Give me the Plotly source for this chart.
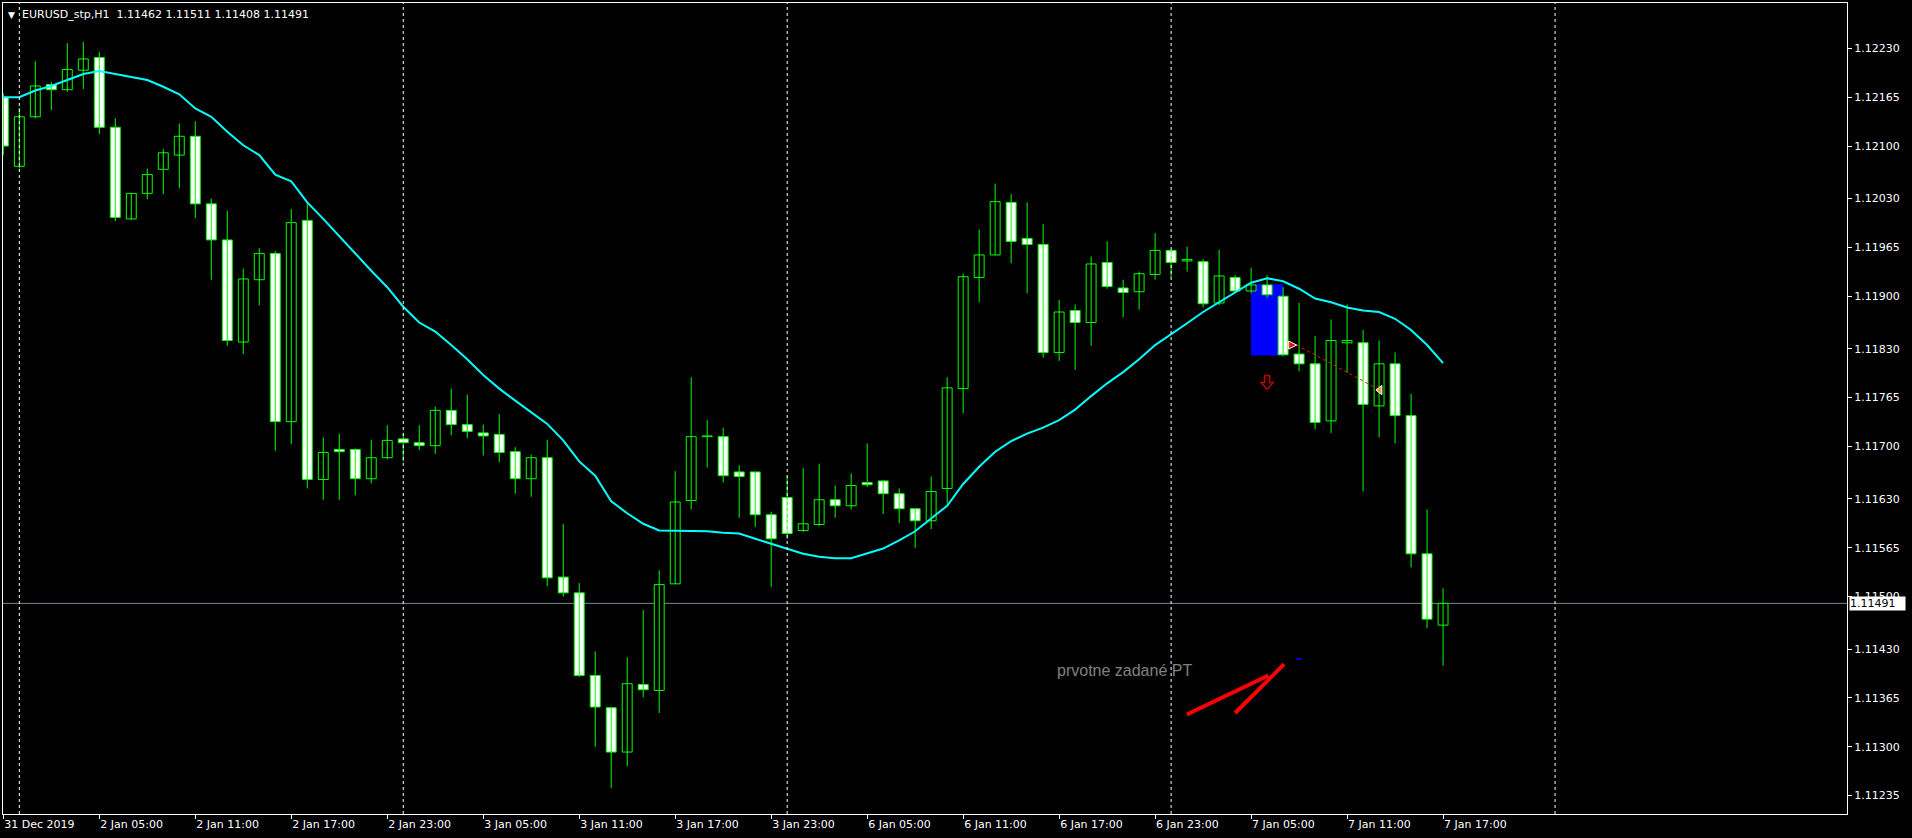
import plotly.graph_objects as go

# ---------------- data ----------------
bar_index = list(range(91))

opens = [1.12165, 1.12073, 1.12139, 1.12182, 1.12175, 1.12201, 1.12218, 1.12125, 1.12003, 1.12037,
         1.12069, 1.12088, 1.12113, 1.12023, 1.11975, 1.11839, 1.11922, 1.11957, 1.11733, 1.12001,
         1.11656, 1.11696, 1.11696, 1.11657, 1.11685, 1.11710, 1.11705, 1.11701, 1.11748, 1.11729,
         1.11718, 1.11716, 1.11693, 1.11657, 1.11685, 1.11526, 1.11505, 1.11395, 1.11352, 1.11293,
         1.11383, 1.11375, 1.11517, 1.11628, 1.11713, 1.11713, 1.11666, 1.11666, 1.11609, 1.11632,
         1.11588, 1.11596, 1.11629, 1.11621, 1.11652, 1.11654, 1.11637, 1.11617, 1.11601, 1.11644,
         1.11777, 1.11925, 1.11955, 1.12025, 1.11977, 1.11969, 1.11825, 1.11881, 1.11865, 1.11945,
         1.11911, 1.11906, 1.11929, 1.11961, 1.11947, 1.11946, 1.11891, 1.11925, 1.11907, 1.11915,
         1.11900, 1.11823, 1.11810, 1.11734, 1.11838, 1.11838, 1.11754, 1.11810, 1.11741, 1.11557,
         1.11462]
highs = [1.12170, 1.12151, 1.12213, 1.12185, 1.12237, 1.12239, 1.12225, 1.12137, 1.12037, 1.12070,
         1.12096, 1.12130, 1.12133, 1.12030, 1.12014, 1.11937, 1.11964, 1.11960, 1.12016, 1.12025,
         1.11712, 1.11717, 1.11697, 1.11709, 1.11728, 1.11718, 1.11728, 1.11753, 1.11777, 1.11769,
         1.11729, 1.11743, 1.11699, 1.11689, 1.11709, 1.11597, 1.11518, 1.11427, 1.11352, 1.11419,
         1.11482, 1.11535, 1.11667, 1.11792, 1.11735, 1.11725, 1.11675, 1.11666, 1.11613, 1.11660,
         1.11671, 1.11677, 1.11648, 1.11664, 1.11704, 1.11655, 1.11644, 1.11617, 1.11660, 1.11792,
         1.11930, 1.11989, 1.12050, 1.12036, 1.12025, 1.11996, 1.11895, 1.11889, 1.11953, 1.11973,
         1.11922, 1.11933, 1.11984, 1.11963, 1.11966, 1.11949, 1.11962, 1.11928, 1.11938, 1.11928,
         1.11912, 1.11891, 1.11847, 1.11869, 1.11889, 1.11855, 1.11841, 1.11825, 1.11770, 1.11616,
         1.11511]
lows = [1.12088, 1.12070, 1.12137, 1.12148, 1.12172, 1.12176, 1.12116, 1.12000, 1.12002, 1.12029,
        1.12036, 1.12044, 1.12004, 1.11922, 1.11834, 1.11823, 1.11888, 1.11694, 1.11703, 1.11644,
        1.11629, 1.11629, 1.11635, 1.11651, 1.11683, 1.11680, 1.11695, 1.11690, 1.11715, 1.11711,
        1.11688, 1.11679, 1.11637, 1.11633, 1.11514, 1.11500, 1.11393, 1.11300, 1.11245, 1.11274,
        1.11366, 1.11345, 1.11517, 1.11616, 1.11672, 1.11652, 1.11605, 1.11593, 1.11513, 1.11577,
        1.11586, 1.11594, 1.11605, 1.11616, 1.11646, 1.11610, 1.11598, 1.11565, 1.11590, 1.11624,
        1.11744, 1.11892, 1.11955, 1.11944, 1.11904, 1.11818, 1.11814, 1.11802, 1.11834, 1.11910,
        1.11872, 1.11882, 1.11922, 1.11925, 1.11933, 1.11885, 1.11888, 1.11905, 1.11904, 1.11898,
        1.11820, 1.11800, 1.11723, 1.11718, 1.11798, 1.11640, 1.11712, 1.11704, 1.11539, 1.11458,
        1.11408]
closes = [1.12100, 1.12139, 1.12180, 1.12175, 1.12202, 1.12216, 1.12125, 1.12005, 1.12037, 1.12062,
          1.12091, 1.12113, 1.12023, 1.11975, 1.11841, 1.11923, 1.11957, 1.11733, 1.11998, 1.11656,
          1.11692, 1.11693, 1.11657, 1.11685, 1.11708, 1.11705, 1.11701, 1.11748, 1.11729, 1.11720,
          1.11714, 1.11692, 1.11657, 1.11685, 1.11525, 1.11505, 1.11395, 1.11353, 1.11293, 1.11384,
          1.11376, 1.11516, 1.11626, 1.11713, 1.11714, 1.11661, 1.11660, 1.11609, 1.11577, 1.11584,
          1.11597, 1.11629, 1.11621, 1.11648, 1.11649, 1.11637, 1.11617, 1.11601, 1.11640, 1.11778,
          1.11926, 1.11955, 1.12026, 1.11973, 1.11969, 1.11825, 1.11879, 1.11865, 1.11943, 1.11913,
          1.11905, 1.11930, 1.11961, 1.11945, 1.11949, 1.11890, 1.11927, 1.11907, 1.11915, 1.11902,
          1.11822, 1.11810, 1.11732, 1.11841, 1.11841, 1.11756, 1.11810, 1.11741, 1.11557, 1.11470,
          1.11491]
ma_values = [1.12165, 1.12165, 1.12174, 1.12180, 1.12188, 1.12196, 1.12200, 1.12196, 1.12191, 1.12188,
             1.12179, 1.12169, 1.12150, 1.12139, 1.12119, 1.12101, 1.12088, 1.12062, 1.12053, 1.12025,
             1.12003, 1.11980, 1.11956, 1.11934, 1.11912, 1.11886, 1.11865, 1.11853, 1.11835, 1.11816,
             1.11795, 1.11777, 1.11761, 1.11745, 1.11730, 1.11708, 1.11680, 1.11661, 1.11627, 1.11611,
             1.11597, 1.11588, 1.11588, 1.11588, 1.11587, 1.11585, 1.11584, 1.11577, 1.11570, 1.11563,
             1.11557, 1.11553, 1.11551, 1.11551, 1.11557, 1.11564, 1.11575, 1.11587, 1.11604, 1.11621,
             1.11650, 1.11673, 1.11693, 1.11707, 1.11717, 1.11725, 1.11735, 1.11749, 1.11767, 1.11784,
             1.11799, 1.11816, 1.11835, 1.11849, 1.11864, 1.11879, 1.11892, 1.11905, 1.11918, 1.11924,
             1.11920, 1.11910, 1.11897, 1.11892, 1.11885, 1.11881, 1.11879, 1.11870, 1.11855, 1.11835,
             1.11811]

x_tick_index = list(range(0, 91, 6))
x_tick_labels = ["31 Dec 2019", "2 Jan 05:00", "2 Jan 11:00", "2 Jan 17:00", "2 Jan 23:00",
                 "3 Jan 05:00", "3 Jan 11:00", "3 Jan 17:00", "3 Jan 23:00", "6 Jan 05:00",
                 "6 Jan 11:00", "6 Jan 17:00", "6 Jan 23:00", "7 Jan 05:00", "7 Jan 11:00",
                 "7 Jan 17:00"]
y_tick_values = [1.12230, 1.12165, 1.12100, 1.12030, 1.11965, 1.11900, 1.11830, 1.11765,
                 1.11700, 1.11630, 1.11565, 1.11500, 1.11430, 1.11365, 1.11300, 1.11235]
day_separator_index = [1, 25, 49, 73, 97]
last_price = 1.11491
title_text = "EURUSD_stp,H1\u00a0\u00a01.11462 1.11511 1.11408 1.11491"

# drawn objects on the chart
zone_bars = (78, 80)
zone_prices = (1.11821, 1.11916)
signal_arrow = (79, 1.11785)
trade_open = (80.85, 1.11835)
trade_close = (86.05, 1.11775)
note_text = "prvotne zadané PT"
note_pos = (65.75, 1.11401)
red_strokes = [((73.98, 1.11343), (79.08, 1.11395)), ((77.0, 1.11345), (80.06, 1.11410))]
blue_dash = (80.8, 81.2, 1.11417)

GREEN = "#00FF00"

fig = go.Figure()

# wicks
wx, wy = [], []
for i, h, l in zip(bar_index, highs, lows):
    wx += [i, i, None]
    wy += [l, h, None]
fig.add_trace(go.Scatter(x=wx, y=wy, mode="lines", line=dict(color=GREEN, width=1),
                         hoverinfo="skip", showlegend=False))

# bodies
body_base = [min(o, c) for o, c in zip(opens, closes)]
body_len = [max(abs(c - o), 0.000004) for o, c in zip(opens, closes)]
body_fill = ["#000000" if c >= o else "#FFFFFF" for o, c in zip(opens, closes)]
fig.add_trace(go.Bar(x=bar_index, y=body_len, base=body_base, width=0.62,
                     marker=dict(color=body_fill, line=dict(color=GREEN, width=1)),
                     hoverinfo="skip", showlegend=False))

# moving average
fig.add_trace(go.Scatter(x=bar_index, y=ma_values, mode="lines",
                         line=dict(color="#00FFFF", width=2), hoverinfo="skip", showlegend=False))

# trade line + markers
fig.add_trace(go.Scatter(x=[trade_open[0], trade_close[0]], y=[trade_open[1], trade_close[1]],
                         mode="lines", line=dict(color="#FF0000", width=1, dash="dot"),
                         hoverinfo="skip", showlegend=False))
fig.add_trace(go.Scatter(x=[trade_open[0]], y=[trade_open[1]], mode="markers",
                         marker=dict(symbol="arrow-right", size=8, color="#FF0000",
                                     line=dict(color="#FFFFFF", width=1)),
                         hoverinfo="skip", showlegend=False))
fig.add_trace(go.Scatter(x=[trade_close[0]], y=[trade_close[1]], mode="markers",
                         marker=dict(symbol="triangle-left", size=8, color="#E8A040",
                                     line=dict(color="#FFFFFF", width=1)),
                         hoverinfo="skip", showlegend=False))

shapes = []
# blue zone
shapes.append(dict(type="rect", xref="x", yref="y", x0=zone_bars[0], x1=zone_bars[1],
                   y0=zone_prices[0], y1=zone_prices[1], fillcolor="#0000FF",
                   line=dict(width=0), layer="below"))
# day separators
for d in day_separator_index:
    shapes.append(dict(type="line", xref="x", yref="paper", x0=d, x1=d, y0=0, y1=1,
                       line=dict(color="#FFFFFF", width=1, dash="3px,3px"), layer="above"))
# last price line
shapes.append(dict(type="line", xref="paper", yref="y", x0=0, x1=1, y0=last_price, y1=last_price,
                   line=dict(color="#778899", width=1), layer="below"))
# red hand strokes
for (a, b) in red_strokes:
    shapes.append(dict(type="line", xref="x", yref="y", x0=a[0], y0=a[1], x1=b[0], y1=b[1],
                       line=dict(color="#FF0000", width=4)))
# blue dash
shapes.append(dict(type="line", xref="x", yref="y", x0=blue_dash[0], x1=blue_dash[1],
                   y0=blue_dash[2], y1=blue_dash[2], line=dict(color="#0000FF", width=1.5)))
# hollow down arrow (sell signal), sized in pixels around its anchor
shapes.append(dict(type="path", xref="x", yref="y", xsizemode="pixel", ysizemode="pixel",
                   xanchor=signal_arrow[0], yanchor=signal_arrow[1],
                   path="M -2.5,7 L 2.5,7 L 2.5,0 L 6,0 L 0,-7 L -6,0 L -2.5,0 Z",
                   line=dict(color="#C00000", width=1.5), fillcolor="rgba(0,0,0,0)"))

annotations = [
    dict(x=0, y=1, xref="paper", yref="paper", xanchor="left", yanchor="top", xshift=3, yshift=-5,
         text="▼", showarrow=False, font=dict(family="DejaVu Sans", size=9, color="#FFFFFF")),
    dict(x=0, y=1, xref="paper", yref="paper", xanchor="left", yanchor="top", xshift=17, yshift=-3,
         text=title_text, showarrow=False, font=dict(family="DejaVu Sans", size=11, color="#FFFFFF")),
    dict(x=1, y=last_price, xref="paper", yref="y", xanchor="left", yanchor="middle", xshift=2,
         text="1.11491", showarrow=False, bgcolor="#FFFFFF", borderpad=0, width=55, align="left",
         font=dict(family="DejaVu Sans", size=11, color="#000000")),
    dict(x=note_pos[0], y=note_pos[1], xref="x", yref="y", xanchor="left", yanchor="middle",
         text=note_text, showarrow=False,
         font=dict(family="Liberation Sans", size=16, color="#808080")),
]

fig.update_layout(
    width=1912, height=838,
    margin=dict(l=3, r=65, t=3, b=24),
    paper_bgcolor="#000000", plot_bgcolor="#000000",
    showlegend=False, hovermode=False, barmode="overlay",
    font=dict(family="DejaVu Sans", size=11, color="#FFFFFF"),
    shapes=shapes, annotations=annotations,
)
fig.update_xaxes(range=[-0.02, 115.25], tickmode="array", tickvals=x_tick_index, ticktext=x_tick_labels,
                 ticks="outside", ticklen=4, tickcolor="#FFFFFF", ticklabelposition="outside right",
                 showgrid=False, zeroline=False, showline=True, linecolor="#FFFFFF", linewidth=1,
                 mirror=True, tickfont=dict(family="DejaVu Sans", size=11, color="#FFFFFF"))
fig.update_yaxes(side="right", range=[1.112105, 1.122905], tickmode="array", tickvals=y_tick_values,
                 tickformat=".5f", ticks="outside", ticklen=4, tickcolor="#FFFFFF",
                 showgrid=False, zeroline=False, showline=True, linecolor="#FFFFFF", linewidth=1,
                 mirror=True, tickfont=dict(family="DejaVu Sans", size=11, color="#FFFFFF"))

fig.write_html("out.html", config={"displayModeBar": False},
               post_script="document.body.style.margin='0';document.body.style.overflow='hidden';")
